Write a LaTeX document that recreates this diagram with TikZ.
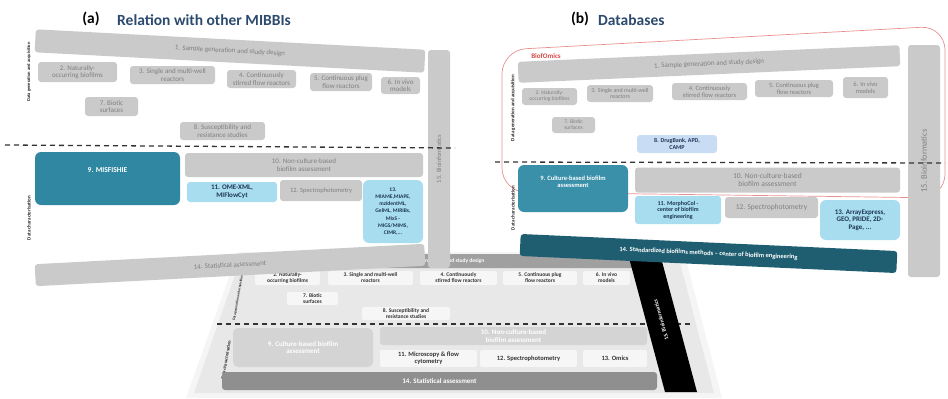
\documentclass[tikz,border=0pt]{standalone}
\usepackage{fontspec}
\setmainfont{Carlito}
\usetikzlibrary{positioning}

\definecolor{boxgray}{HTML}{CACACA}
\definecolor{boxtext}{HTML}{808080}
\definecolor{tealA}{HTML}{2F87A1}
\definecolor{tealB}{HTML}{3A8FA9}
\definecolor{lightblue}{HTML}{A8DDEF}
\definecolor{navytext}{HTML}{1D3557}
\definecolor{lavender}{HTML}{C8DCF4}
\definecolor{darkteal}{HTML}{1F5E70}
\definecolor{titleblue}{HTML}{2C4A6E}
\definecolor{omicsred}{HTML}{D64545}
\definecolor{omicsline}{HTML}{E89090}
\definecolor{cedge}{HTML}{F5F5F5}
\definecolor{cback}{HTML}{E8E8E8}
\definecolor{cwhite}{HTML}{F6F6F6}
\definecolor{cfade}{HTML}{D4D4D4}
\definecolor{cdark}{HTML}{8F8F8F}

\begin{document}
\begin{tikzpicture}[x=1pt,y=-1pt,
    gbox/.style={fill=boxgray,text=boxtext,rounded corners=3pt,align=center,inner sep=1pt,font=\fontsize{7}{7.5}\selectfont},
    bluebox/.style={gbox,fill=lightblue,text=navytext,font=\bfseries\fontsize{7}{7.5}\selectfont},
    tealbox/.style={gbox,fill=tealA,text=white,rounded corners=6pt,font=\bfseries\fontsize{7.5}{8}\selectfont},
    whitebox/.style={gbox,fill=cwhite,text=black!80,rounded corners=2pt,font=\bfseries\fontsize{5.5}{6}\selectfont},
    sidelabel/.style={rotate=90,text=black!85,inner sep=0pt,font=\bfseries\fontsize{5}{5}\selectfont},
    sepline/.style={line width=1.3pt,dash pattern=on 5pt off 4pt,black!80},
    title/.style={inner sep=0pt,font=\bfseries\fontsize{15.5}{15.5}\selectfont}]
\useasboundingbox (0,0) rectangle (948,399);

% (c) the grey version at the back
\fill[cedge] (238,252) -- (684,252) -- (722,398) -- (186,398) -- cycle;
\fill[cback] (242,255) -- (678,255) -- (714,393) -- (194,393) -- cycle;
\node[gbox,fill=cdark!85,text=white,minimum width=392,minimum height=14,font=\bfseries\fontsize{5.5}{6}\selectfont] (c1) at (440,261) {1. Sample generation and study design};
\node[whitebox,minimum width=65,minimum height=14] (c2) at (287.5,278) {2. Naturally-\\occurring biofilms};
\node[whitebox,minimum width=85,minimum height=14] (c3) at (370.5,278) {3. Single and multi-well\\reactors};
\node[whitebox,minimum width=77,minimum height=14] (c4) at (458.5,278) {4. Continuously\\stirred flow reactors};
\node[whitebox,minimum width=74,minimum height=14] (c5) at (540,278) {5. Continuous plug\\flow reactors};
\node[whitebox,minimum width=47,minimum height=14] (c6) at (606.5,278) {6. In vivo\\models};
\node[whitebox,minimum width=51,minimum height=13] (c7) at (312.5,298.5) {7. Biotic\\surfaces};
\node[whitebox,minimum width=88,minimum height=13] (c8) at (406,313.5) {8. Susceptibility and\\resistance studies};
\draw[sepline] (217,324) -- (690,324);
\node[text=black!85,inner sep=0pt,rotate=80,font=\bfseries\fontsize{3.5}{3.5}\selectfont] (cgen) at (238,298) {Data generation and acquisition};
\node[text=black!85,inner sep=0pt,rotate=80,font=\bfseries\fontsize{4.5}{4.5}\selectfont] (cchar) at (226,360) {Data characterisation};
\node[gbox,fill=cfade,text=white,rounded corners=5pt,minimum width=140,minimum height=39,font=\bfseries\fontsize{7}{7.5}\selectfont] (c9) at (303,347.5) {9. Culture-based biofilm\\assessment};
\node[gbox,fill=cfade,text=white,minimum width=267,minimum height=18,font=\bfseries\fontsize{7}{7.5}\selectfont] (c10) at (513.5,336) {10. Non-culture-based\\biofilm assessment};
\node[whitebox,minimum width=97,minimum height=17,font=\bfseries\fontsize{6.5}{7}\selectfont] (c11) at (428.5,358.5) {11. Microscopy \& flow\\cytometry};
\node[whitebox,minimum width=97,minimum height=17,font=\bfseries\fontsize{6.5}{7}\selectfont] (c12) at (528.5,358.5) {12. Spectrophotometry};
\node[whitebox,minimum width=64,minimum height=17,font=\bfseries\fontsize{6.5}{7}\selectfont] (c13) at (615,358.5) {13. Omics};
\node[gbox,fill=cdark,text=white,minimum width=435,minimum height=18,font=\bfseries\fontsize{7}{7.5}\selectfont] (c14) at (439.5,381) {14. Statistical assessment};
\fill[black] (628,254) -- (660,254) -- (697,392) -- (665,392) -- cycle;
\node[rotate=106,text=white,inner sep=0pt,font=\bfseries\fontsize{5.5}{6}\selectfont] (c15) at (661,320) {15. Bioinformatics};

% (a) relation with other MIBBIs
\node[title] (alabel) at (91,19) {(a)};
\node[title,text=titleblue,anchor=west] (atitle) at (117,20) {Relation with other MIBBIs};
\node[gbox,rotate=-3,minimum width=390,minimum height=23] (a1) at (230,51) {1. Sample generation and study design};
\node[gbox,minimum width=79,minimum height=20] (a2) at (77.5,72) {2. Naturally-\\occurring biofilms};
\node[gbox,minimum width=85,minimum height=18] (a3) at (172.5,75) {3. Single and multi-well\\reactors};
\node[gbox,minimum width=69,minimum height=18] (a4) at (261.5,79) {4. Continuously\\stirred flow reactors};
\node[gbox,minimum width=62,minimum height=18] (a5) at (341,82) {5. Continuous plug\\flow reactors};
\node[gbox,minimum width=39,minimum height=17] (a6) at (400.5,85.5) {6. In vivo\\models};
\node[gbox,minimum width=53,minimum height=19] (a7) at (111.5,106.5) {7. Biotic\\surfaces};
\node[gbox,minimum width=85,minimum height=18] (a8) at (222.5,131) {8. Susceptibility and\\resistance studies};
\node[gbox,minimum width=22,minimum height=218] (a15) at (439,159) {};
\node[rotate=90,text=boxtext,inner sep=0pt,font=\fontsize{6.5}{7}\selectfont] at (a15) {15. Bioinformatics};
\draw[sepline] (5,145) -- (455,148);
\node[sidelabel,font=\bfseries\fontsize{4.5}{4.5}\selectfont] (agen) at (29,72) {Data generation and acquisition};
\node[sidelabel] (achar) at (29,218) {Data characterisation};
\node[tealbox,minimum width=145,minimum height=53] (a9) at (107.5,178.5) {9. MISFISHIE\\[8pt]};
\node[gbox,minimum width=238,minimum height=24] (a10) at (304,165) {10. Non-culture-based\\biofilm assessment};
\node[bluebox,minimum width=90,minimum height=20] (a11) at (232,192) {11. OME-XML,\\MIFlowCyt};
\node[gbox,minimum width=82,minimum height=21,font=\fontsize{6.5}{7}\selectfont] (a12) at (321,190.5) {12. Spectrophotometry};
\node[bluebox,rounded corners=6pt,minimum width=60,minimum height=63,font=\bfseries\fontsize{5.5}{7.2}\selectfont] (a13) at (393,211.5) {13.\\MIAME,MIAPE,\\mzIdentML,\\GelML, MIRIBs,\\MIxS -\\MIGS/MIMS,\\CIMR,...};
\node[gbox,rotate=3,minimum width=390,minimum height=22] (a14) at (230,265) {14. Statistical assessment};

% (b) databases
\node[title] (blabel) at (580,19) {(b)};
\node[title,text=titleblue,anchor=west] (btitle) at (598,20) {Databases};
\draw[omicsline,line width=0.7pt,rounded corners=24pt] (502,192) -- (502,50) -- (945,26) -- (945,198) -- cycle;
\node[text=omicsred,inner sep=0pt,font=\bfseries\fontsize{7}{7}\selectfont] (omics) at (546,56) {BiofOmics};
\node[gbox,rotate=2.5,minimum width=382,minimum height=21] (b1) at (709,64) {1. Sample generation and study design};
\node[gbox,minimum width=55,minimum height=17,font=\fontsize{5.5}{6}\selectfont] (b2) at (549.5,96.5) {2. Naturally-\\occurring biofilms};
\node[gbox,minimum width=66,minimum height=17,font=\fontsize{6}{6.5}\selectfont] (b3) at (620,93.5) {3. Single and multi-well\\reactors};
\node[gbox,minimum width=75,minimum height=17,font=\fontsize{6.5}{7}\selectfont] (b4) at (709.5,91.5) {4. Continuously\\stirred flow reactors};
\node[gbox,minimum width=78,minimum height=17,font=\fontsize{6.5}{7}\selectfont] (b5) at (794,88.5) {5. Continuous plug\\flow reactors};
\node[gbox,minimum width=45,minimum height=21,font=\fontsize{6.5}{7}\selectfont] (b6) at (865.5,87.5) {6. In vivo\\models};
\node[gbox,minimum width=43,minimum height=16,font=\fontsize{5.5}{6}\selectfont] (b7) at (573.5,125) {7. Biotic\\surfaces};
\node[bluebox,fill=lavender,minimum width=80,minimum height=18,font=\bfseries\fontsize{6}{6.5}\selectfont] (b8) at (677,144) {8. DrugBank, APD,\\CAMP};
\node[gbox,minimum width=32,minimum height=232] (b15) at (924,161) {};
\node[rotate=90,text=boxtext,inner sep=0pt,font=\fontsize{8.5}{9}\selectfont] at (b15) {15. Bioinformatics};
\draw[sepline] (495,162) -- (945,163);
\node[sidelabel] (bgen) at (513,108) {Data generation and acquisition};
\node[sidelabel] (bchar) at (513,208) {Data characterisation};
\node[tealbox,fill=tealB,minimum width=110,minimum height=47,font=\bfseries\fontsize{6.5}{7}\selectfont] (b9) at (573,188.5) {9. Culture-based biofilm\\assessment\\[6pt]};
\node[gbox,minimum width=265,minimum height=25,font=\fontsize{7.5}{8}\selectfont] (b10) at (767.5,180) {10. Non-culture-based\\biofilm assessment};
\node[bluebox,minimum width=86,minimum height=28,font=\bfseries\fontsize{6}{6.5}\selectfont] (b11) at (678,210) {11. MorphoCol -\\center of biofilm\\engineering};
\node[gbox,minimum width=93,minimum height=21,font=\fontsize{7.5}{8}\selectfont] (b12) at (771.5,207.5) {12. Spectrophotometry};
\node[bluebox,rounded corners=6pt,minimum width=80,minimum height=40] (b13) at (860,220) {13. ArrayExpress,\\GEO, PRIDE, 2D-\\Page, ...};
\node[gbox,fill=darkteal,text=white,rotate=-2.6,minimum width=377,minimum height=22,font=\bfseries\fontsize{6.5}{7}\selectfont] (b14) at (708.5,253.5) {14. Standardized biofilms methods -- center of biofilm engineering};
\end{tikzpicture}
\end{document}
